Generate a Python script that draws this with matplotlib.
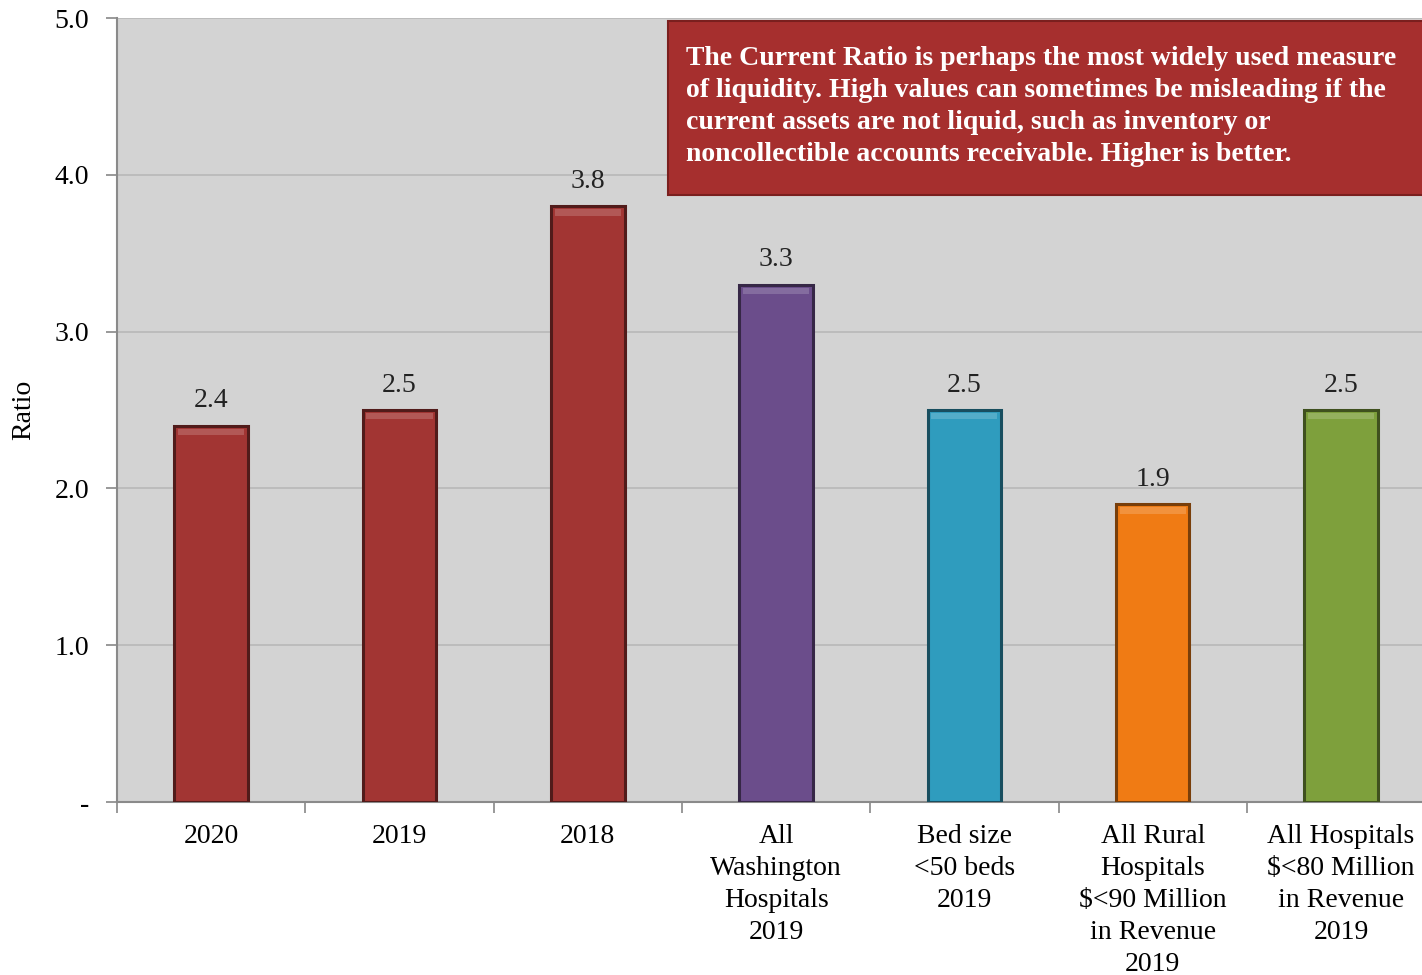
import matplotlib
matplotlib.use("Agg")
import matplotlib.pyplot as plt
from matplotlib.patches import Rectangle
import matplotlib.colors as mcolors
import numpy as np

# categories and current ratio values
categorias = ["2020", "2019", "2018", "All\nWashington\nHospitals\n2019",
              "Bed size\n<50 beds\n2019", "All Rural\nHospitals\n\\$<90 Million\nin Revenue\n2019",
              "All Hospitals\n\\$<80 Million\nin Revenue\n2019"]
valores = [2.4, 2.5, 3.8, 3.3, 2.5, 1.9, 2.5]
rotulos = ["2.4", "2.5", "3.8", "3.3", "2.5", "1.9", "2.5"]
cores = ["#A23533", "#A23533", "#A23533", "#6B4D8B", "#2F9CBE", "#F07B14", "#7EA03C"]

texto_nota = ("The Current Ratio is perhaps the most widely used measure\n"
              "of liquidity. High values can sometimes be misleading if the\n"
              "current assets are not liquid, such as inventory or\n"
              "noncollectible accounts receivable. Higher is better.")

plt.rcParams["font.family"] = ["Liberation Serif", "DejaVu Serif"]

fig = plt.figure(figsize=(14.22, 9.75), dpi=100)
# the plot area runs a little past the right edge of the figure
ax = fig.add_axes([0.0823, 0.1774, 0.927, 0.804])
ax.set_facecolor("#D3D3D3")

x = np.arange(len(valores))
largura = 0.39

for xi, v, c in zip(x, valores, cores):
    base = np.array(mcolors.to_rgb(c))
    escuro = base * 0.5
    claro = np.clip(base + (1 - base) * 0.25, 0, 1)
    ax.bar(xi, v, width=largura, color=c, edgecolor=escuro, linewidth=2.2, zorder=3)
    # bevel highlight along the top of the bar
    ax.bar(xi, 0.04, bottom=v - 0.06, width=largura * 0.9, color=claro,
           linewidth=0, zorder=4, alpha=0.7)

for xi, v, r in zip(x, valores, rotulos):
    ax.text(xi, v + 0.08, r, ha="center", va="bottom", fontsize=20, color="#222222")

ax.set_xlim(-0.5, len(valores) - 0.5)
ax.set_ylim(0, 5)
ax.set_yticks([0, 1, 2, 3, 4, 5])
ax.set_yticklabels(["-", "1.0", "2.0", "3.0", "4.0", "5.0"], fontsize=20)
ax.yaxis.grid(True, color="#B8B8B8", linewidth=1.2, zorder=0)
ax.set_axisbelow(True)

ax.set_xticks(x)
ax.set_xticklabels(categorias, fontsize=20, linespacing=1.37, va="top")
ax.tick_params(axis="x", length=0, pad=16)
ax.set_xticks(np.arange(-0.5, len(valores), 1), minor=True)
ax.tick_params(axis="x", which="minor", length=8, color="#888888", width=1.2)
ax.tick_params(axis="y", length=8, color="#888888", width=1.2, pad=12)

for s in ["top", "right"]:
    ax.spines[s].set_visible(False)
for s in ["left", "bottom"]:
    ax.spines[s].set_color("#8A8A8A")
    ax.spines[s].set_linewidth(1.5)

ax.set_ylabel("Ratio", fontsize=20)
ax.yaxis.set_label_coords(-0.061, 0.5)

# note box in the upper right
caixa = Rectangle((0.418, 0.774), 0.6, 0.222, transform=ax.transAxes,
                  facecolor="#A62F2E", edgecolor="#7A1F1E", linewidth=1.5, zorder=5)
ax.add_patch(caixa)
ax.text(0.4317, 0.964, texto_nota, transform=ax.transAxes, ha="left", va="top",
        fontsize=20, fontweight="bold", color="white", linespacing=1.37, zorder=6)

fig.savefig("out.png", dpi=100, facecolor="white")
